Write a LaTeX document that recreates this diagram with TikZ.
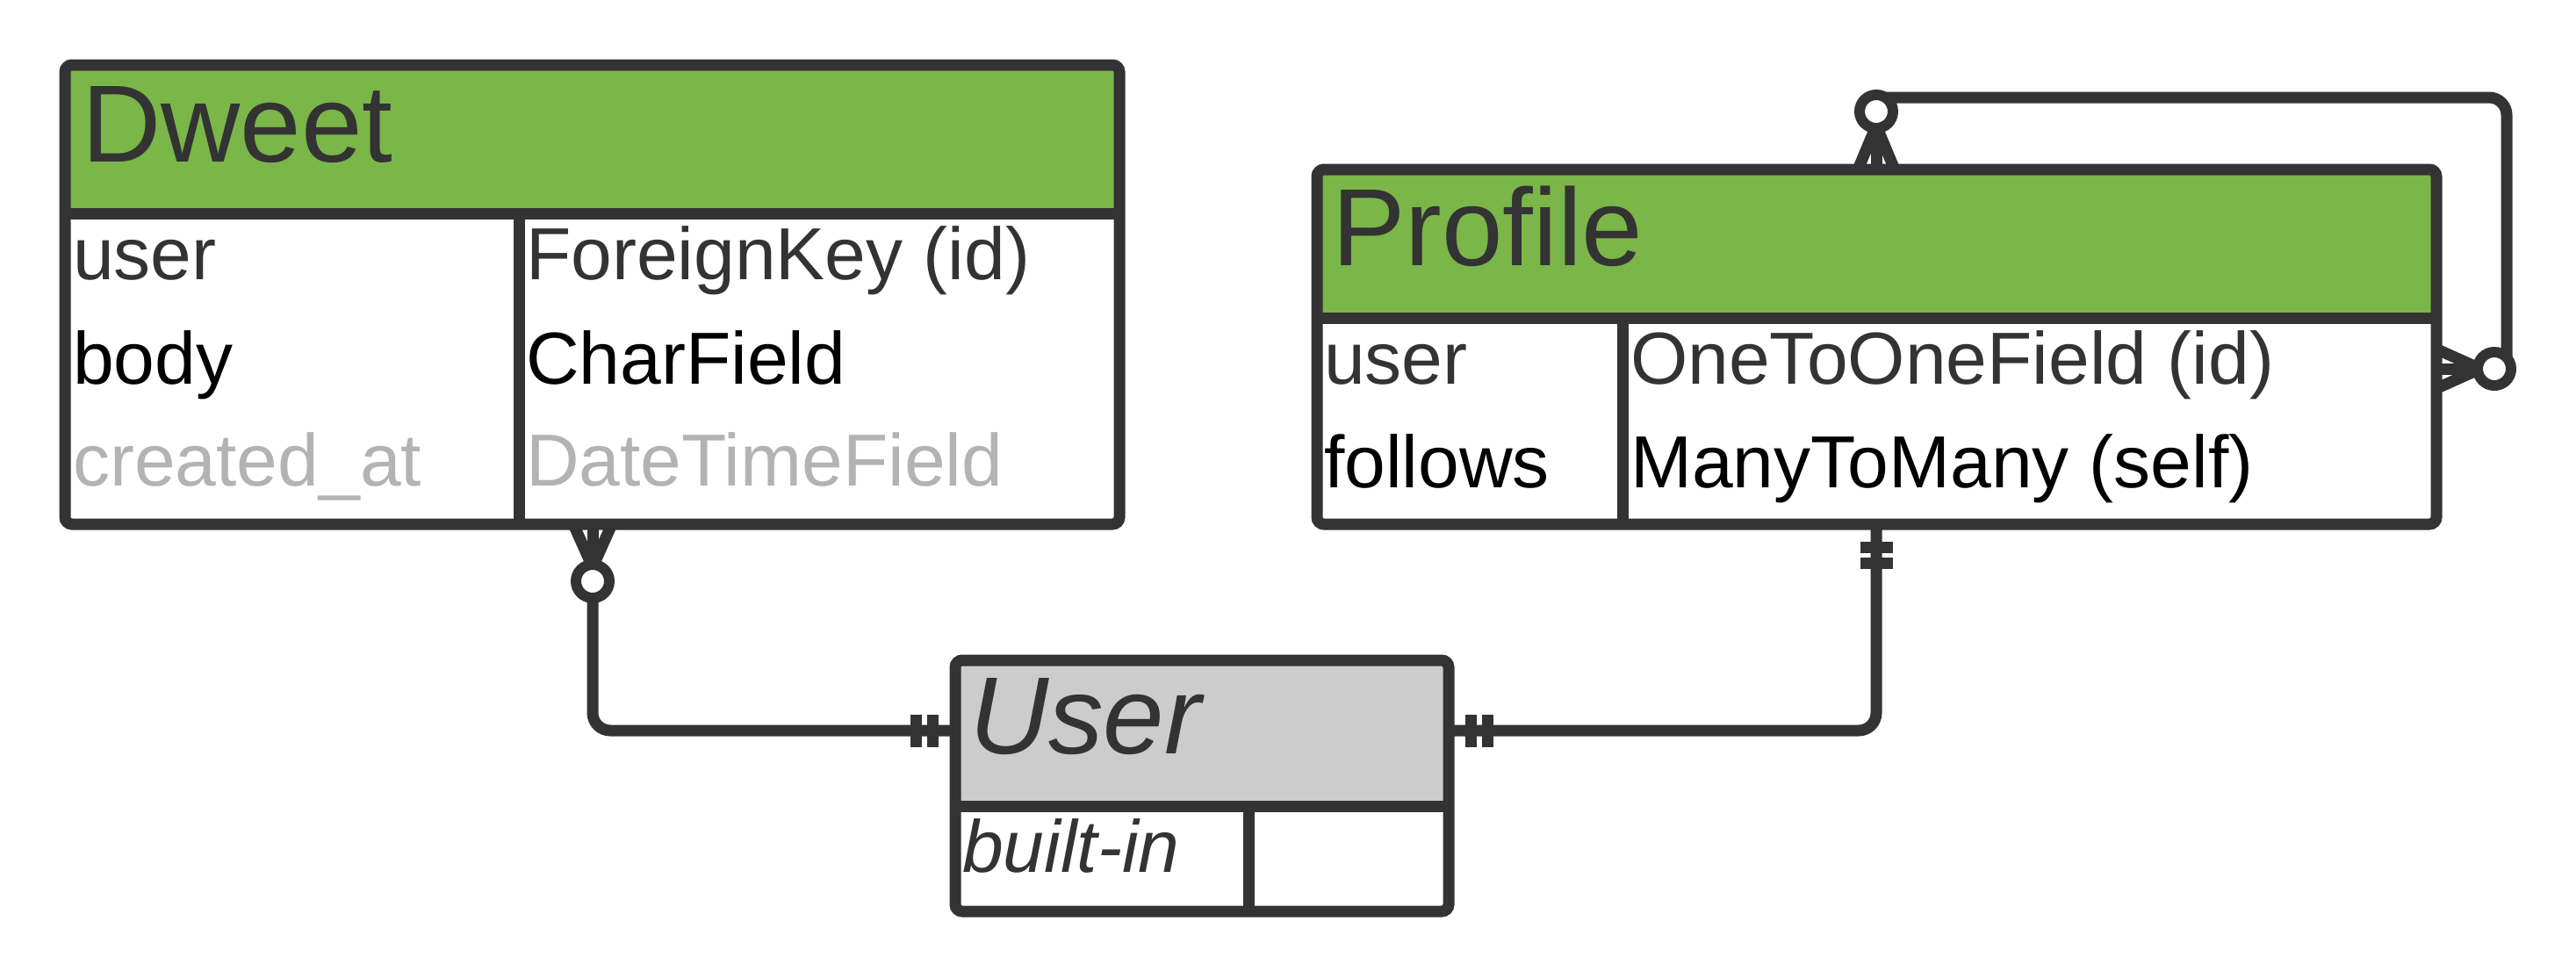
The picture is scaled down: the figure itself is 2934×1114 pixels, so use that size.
\documentclass[tikz,border=0pt]{standalone}
\usepackage{fontspec}
\setmainfont{Liberation Sans}
\usetikzlibrary{calc}
\definecolor{ln}{HTML}{333333}
\definecolor{hdrgreen}{HTML}{7AB648}
\definecolor{hdrgrey}{HTML}{CCCCCC}
\definecolor{faded}{HTML}{B3B3B3}
\begin{document}
\begin{tikzpicture}[x=1pt,y=-1pt,
  tablebg/.style={rectangle, fill=white, inner sep=0pt, outer sep=0pt, anchor=north west, rounded corners=8pt},
  tline/.style={draw=ln, line width=13pt},
  conn/.style={draw=ln, line width=13pt},
  ring/.style={draw=ln, line width=12pt, fill=white},
  title/.style={anchor=base west, inner sep=0pt, font=\fontsize{125}{150}\selectfont, text=ln},
  field/.style={anchor=base west, inner sep=0pt, font=\fontsize{84}{100}\selectfont, text=ln},
]
\useasboundingbox (0,0) rectangle (2934,1114);

% ---------- Dweet ----------
\node[tablebg, minimum width=1201pt, minimum height=523pt] (dweet) at (74,74) {};
\fill[hdrgreen, rounded corners=8pt] (dweet.north west) rectangle ($(dweet.north east)+(0,169)$);
\draw[tline] ($(dweet.north west)+(0,169)$) -- ($(dweet.north east)+(0,169)$);
\draw[tline] ($(dweet.north west)+(517,169)$) -- ($(dweet.south west)+(517,0)$);
\draw[tline, rounded corners=8pt] (dweet.north west) rectangle (dweet.south east);
\node[title] (dweetT) at (93,184) {Dweet};
\node[field] (dweetF1) at (83,318) {user};
\node[field, text=black] (dweetF2) at (83,437) {body};
\node[field, text=faded] (dweetF3) at (83,553) {created\_at};
\node[field] (dweetV1) at (599,318) {ForeignKey (id)};
\node[field, text=black] (dweetV2) at (599,437) {CharField};
\node[field, text=faded] (dweetV3) at (599,553) {DateTimeField};

% ---------- Profile ----------
\node[tablebg, minimum width=1275pt, minimum height=404pt] (profile) at (1500,193) {};
\fill[hdrgreen, rounded corners=8pt] (profile.north west) rectangle ($(profile.north east)+(0,169)$);
\draw[tline] ($(profile.north west)+(0,169)$) -- ($(profile.north east)+(0,169)$);
\draw[tline] ($(profile.north west)+(348,169)$) -- ($(profile.south west)+(348,0)$);
\draw[tline, rounded corners=8pt] (profile.north west) rectangle (profile.south east);
\node[title] (profileT) at (1517,302) {Profile};
\node[field] (profileF1) at (1508,437) {user};
\node[field, text=black] (profileF2) at (1508,555) {follows};
\node[field] (profileV1) at (1857,437) {OneToOneField (id)};
\node[field, text=black] (profileV2) at (1857,555) {ManyToMany (self)};

% ---------- User ----------
\node[tablebg, minimum width=562pt, minimum height=286pt] (user) at (1088,752) {};
\fill[hdrgrey, rounded corners=8pt] (user.north west) rectangle ($(user.north east)+(0,166)$);
\draw[tline] ($(user.north west)+(0,166)$) -- ($(user.north east)+(0,166)$);
\draw[tline] ($(user.north west)+(334,166)$) -- ($(user.south west)+(334,0)$);
\draw[tline, rounded corners=8pt] (user.north west) rectangle (user.south east);
\node[title, font=\fontsize{125}{150}\selectfont\itshape] (userT) at (1104,858) {User};
\node[field, font=\fontsize{84}{100}\selectfont\itshape] (userF1) at (1096,993) {built-in};

% ---------- connector ends ----------
\coordinate (c1) at ($(dweet.south west)+(601,65)$);
\coordinate (c2) at ($(profile.north west)+(637,-66)$);
\coordinate (c3) at ($(profile.north east)+(66,227)$);

% Dweet -- User
\draw[conn, rounded corners=20pt] (c1) |- ($(user.north west)+(0,80)$);
\draw[conn] ($(c1)+(0,-16)$) -- ($(c1)+(-21,-63)$);
\draw[conn] ($(c1)+(0,-16)$) -- ($(c1)+(0,-63)$);
\draw[conn] ($(c1)+(0,-16)$) -- ($(c1)+(21,-63)$);
\draw[ring] (c1) circle[radius=19];
\draw[conn] ($(user.north west)+(-44.5,62)$) -- ($(user.north west)+(-44.5,99)$);
\draw[conn] ($(user.north west)+(-25.5,62)$) -- ($(user.north west)+(-25.5,99)$);

% User -- Profile
\draw[conn, rounded corners=20pt] ($(user.north east)+(0,80)$) -| ($(profile.south west)+(637,0)$);
\draw[conn] ($(user.north east)+(25.5,62)$) -- ($(user.north east)+(25.5,99)$);
\draw[conn] ($(user.north east)+(44.5,62)$) -- ($(user.north east)+(44.5,99)$);
\draw[conn] ($(profile.south west)+(618.5,26)$) -- ($(profile.south west)+(655.5,26)$);
\draw[conn] ($(profile.south west)+(618.5,44.5)$) -- ($(profile.south west)+(655.5,44.5)$);

% Profile -- Profile (follows)
\draw[conn, rounded corners=20pt] ($(c3)+(14,0)$) |- ($(c2)+(11,-16)$);
\draw[conn] ($(c2)+(0,16)$) -- ($(c2)+(-20,64)$);
\draw[conn] ($(c2)+(0,16)$) -- ($(c2)+(0,64)$);
\draw[conn] ($(c2)+(0,16)$) -- ($(c2)+(20,64)$);
\draw[ring] (c2) circle[radius=19];
\draw[conn] ($(c3)+(-16,0)$) -- ($(c3)+(-65,-22)$);
\draw[conn] ($(c3)+(-16,0)$) -- ($(c3)+(-65,0)$);
\draw[conn] ($(c3)+(-16,0)$) -- ($(c3)+(-65,22)$);
\draw[ring] (c3) circle[radius=19];
\end{tikzpicture}
\end{document}
